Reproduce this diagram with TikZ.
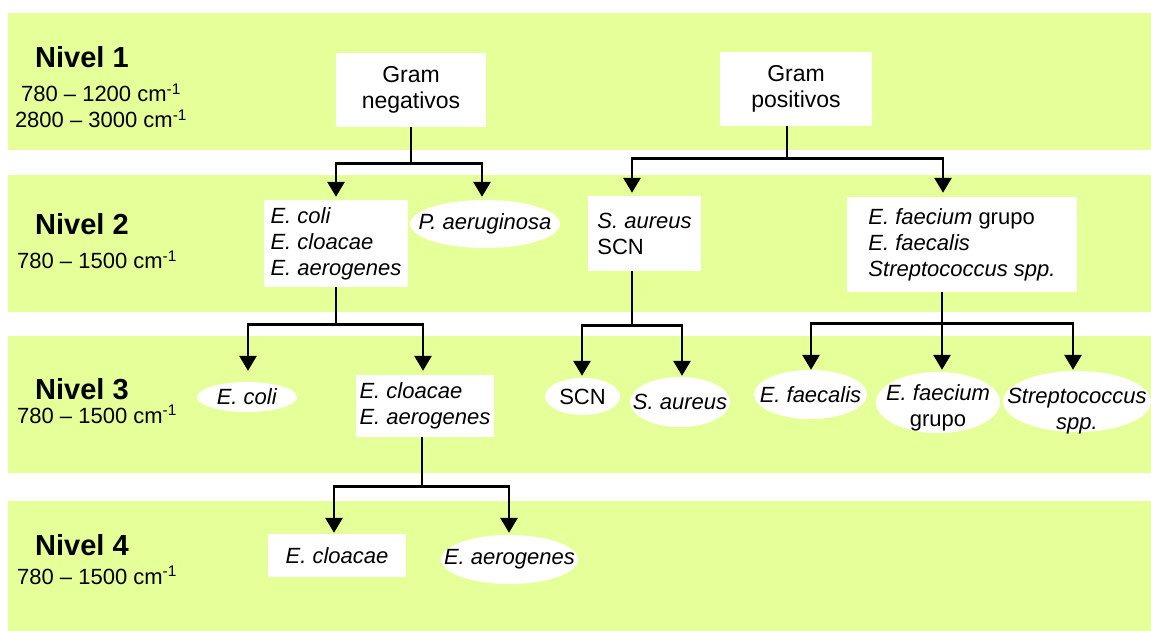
\documentclass[tikz,border=0pt]{standalone}
\usepackage{fontspec}
\setmainfont{Liberation Sans}
\usetikzlibrary{arrows.meta,shapes.geometric}
\definecolor{banda}{RGB}{229,255,153}
\begin{document}
\begin{tikzpicture}[x=1pt,y=-1pt,
	every node/.style={font=\fontsize{22}{26}\selectfont},
	caja/.style={fill=white,inner ysep=0pt,align=left},
	ovalo/.style={ellipse,fill=white,inner sep=0pt},
	nivel/.style={font=\fontsize{29}{34}\selectfont\bfseries,anchor=base west,inner sep=0pt},
	rango/.style={anchor=base west,inner sep=0pt},
	flecha/.style={line width=2.8pt,-{Triangle[width=17pt,length=15pt]}}]
\useasboundingbox (0,0) rectangle (1151,631);
% franjas de cada nivel
\foreach \Ya/\Yb in {13/150,175/312,336/473,501/631}
{
	\fill[banda] (8,\Ya) rectangle (1151,\Yb);
}
% niveles y rangos
\node[nivel] (niv1) at (35,68) {Nivel 1};
\node[rango,anchor=base] (rng1a) at (101,102) {780 – 1200 cm\textsuperscript{-1}};
\node[rango,anchor=base] (rng1b) at (101,128) {2800 – 3000 cm\textsuperscript{-1}};
\foreach \Yn/\Yr/\Nivel in {234/269/2,399/423/3,555/584/4}
{
	\node[nivel] (niv\Nivel) at (35,\Yn) {Nivel \Nivel};
	\node[rango] (rng\Nivel) at (17,\Yr) {780 – 1500 cm\textsuperscript{-1}};
}
% nivel 1
\node[caja,align=center,minimum width=150pt,minimum height=74pt,font=\fontsize{23}{26}\selectfont] (gneg) at (411,90) {Gram\\negativos};
\node[caja,align=center,minimum width=152pt,minimum height=74pt,font=\fontsize{23}{26}\selectfont] (gpos) at (796,89) {Gram\\positivos};
% nivel 2
\node[caja,minimum width=144pt,minimum height=87pt] (ecca) at (336,243.5)
	{\textit{E. coli}\\\textit{E. cloacae}\\\textit{E. aerogenes}};
\node[ovalo,minimum width=150pt,minimum height=48pt,label={center:\textit{P. aeruginosa}}] (paer) at (485,224) {};
\node[caja,minimum width=113pt,minimum height=75pt] (sacn) at (644.5,233.5) {\textit{S. aureus}\\SCN};
\node[caja,minimum width=230pt,minimum height=95pt] (ent) at (962,244.5)
	{\textit{E. faecium} grupo\\\textit{E. faecalis}\\\textit{Streptococcus spp.}};
% nivel 3
\node[ovalo,minimum width=100pt,minimum height=30pt,label={center:\textit{E. coli}}] (ecoli) at (247,397) {};
\node[caja,minimum width=138pt,minimum height=62pt] (clae) at (425,406) {\textit{E. cloacae}\\\textit{E. aerogenes}};
\node[ovalo,minimum width=75pt,minimum height=37pt,label={center:SCN}] (scn) at (582.5,396.5) {};
\node[ovalo,minimum width=100pt,minimum height=50pt,label={center:\textit{S. aureus}}] (saur) at (680,402) {};
\node[ovalo,minimum width=113pt,minimum height=49pt,label={center:\textit{E. faecalis}}] (fcal) at (810.5,394.5) {};
\node[ovalo,minimum width=124pt,minimum height=61pt,label={[align=center,yshift=-5pt]center:\textit{E. faecium}\\grupo}] (fcum) at (938,402.5) {};
\node[ovalo,minimum width=148pt,minimum height=61pt,label={[align=center,yshift=-10pt]center:\textit{Streptococcus}\\\textit{spp.}}] (strp) at (1077,401.5) {};
% nivel 4
\node[caja,align=center,minimum width=138pt,minimum height=43pt] (cloa) at (337,555.5) {\textit{E. cloacae}};
\node[ovalo,minimum width=137pt,minimum height=49pt,label={center:\textit{E. aerogenes}}] (aerg) at (509.5,559.5) {};
% conexiones
\foreach \Hijo/\Dx/\Dy in {ecca/0/3,paer/-3/3}
	\draw[flecha] (gneg.south) -- ++(0,36) -| ([xshift=\Dx pt,yshift=\Dy pt]\Hijo.north);
\foreach \Hijo/\Dx/\Dy in {sacn/-12.5/3,ent/-19/4}
	\draw[flecha] ([xshift=-9pt]gpos.south) -- ++(0,32) -| ([xshift=\Dx pt,yshift=\Dy pt]\Hijo.north);
\foreach \Hijo/\Dx/\Dy in {ecoli/1/11,clae/-2/4}
	\draw[flecha] (ecca.south) -- ++(0,37) -| ([xshift=\Dx pt,yshift=\Dy pt]\Hijo.north);
\foreach \Hijo/\Dx/\Dy in {scn/-0.5/2,saur/2/1}
	\draw[flecha] ([xshift=-12.5pt]sacn.south) -- ++(0,54) -| ([xshift=\Dx pt,yshift=\Dy pt]\Hijo.north);
\foreach \Hijo/\Dx/\Dy in {fcal/0.5/0,fcum/4/2,strp/-4/1}
	\draw[flecha] ([xshift=-20pt]ent.south) -- ++(0,31) -| ([xshift=\Dx pt,yshift=\Dy pt]\Hijo.north);
\foreach \Hijo/\Dx/\Dy in {cloa/-3/1,aerg/-0.5/2}
	\draw[flecha] ([xshift=-3pt]clae.south) -- ++(0,49) -| ([xshift=\Dx pt,yshift=\Dy pt]\Hijo.north);
\end{tikzpicture}
\end{document}
